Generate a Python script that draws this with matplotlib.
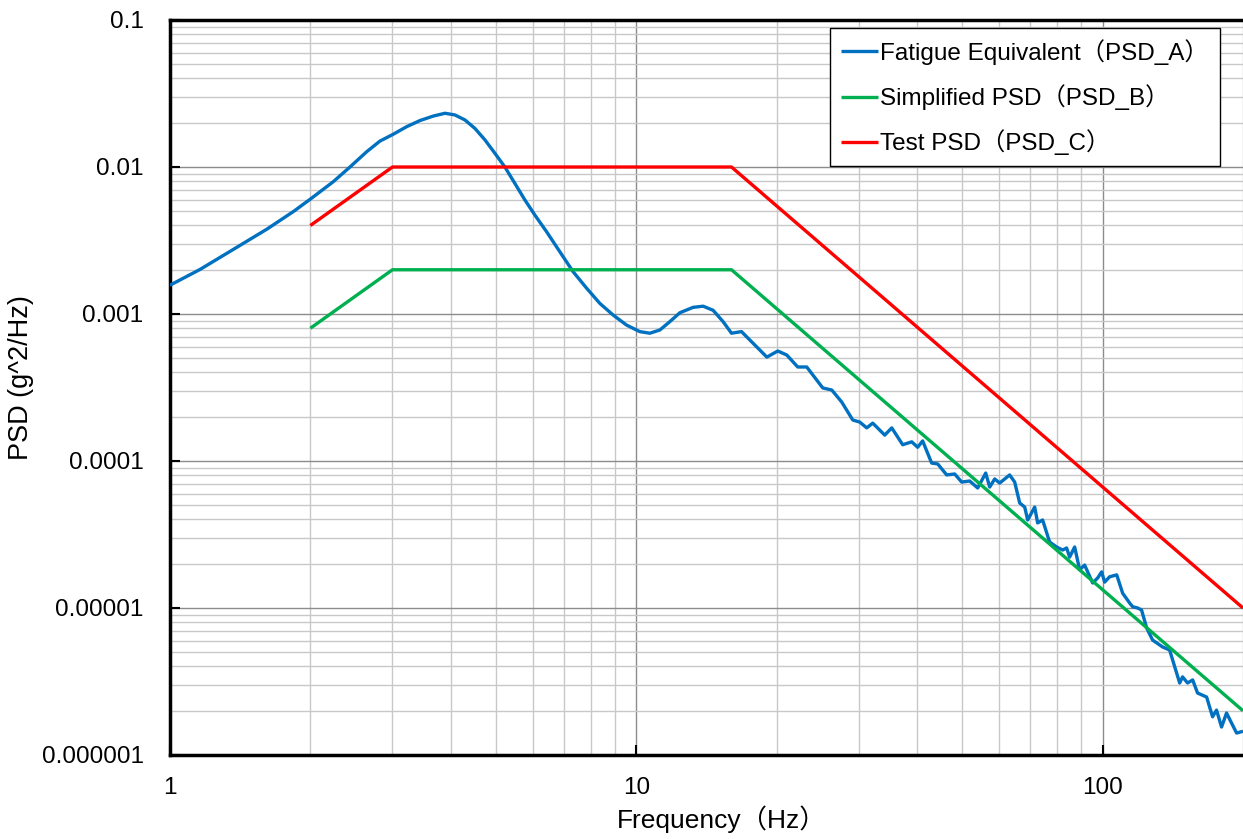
import numpy as np
import matplotlib
matplotlib.use("Agg")
import matplotlib.pyplot as plt
from matplotlib.ticker import FixedLocator, LogLocator, NullFormatter

# ---------------------------------------------------------------------------
# data
# ---------------------------------------------------------------------------
freq_a = [1.00, 1.160, 1.367, 1.612, 1.838, 2.000, 2.239, 2.432, 2.641, 2.819,
          3.011, 3.217, 3.436, 3.668, 3.887, 4.083, 4.290, 4.507, 4.735, 4.974,
          5.226, 5.489, 5.768, 6.060, 6.420, 6.855, 7.319, 7.821, 8.353, 8.918,
          9.528, 10.17, 10.69, 11.23, 11.80, 12.40, 13.24, 13.91, 14.61, 15.35,
          16.00, 16.81, 17.52, 18.40, 19.05, 20.11,
          21.02, 22.19, 23.20, 25.11, 26.25, 27.57, 29.12, 30.14, 31.20, 32.14,
          34.10, 35.30, 37.26, 38.96, 40.12, 41.12, 42.99, 44.29, 46.30, 48.16,
          49.86, 51.87, 53.96, 56.14, 57.26, 58.69, 60.15, 63.18, 64.78, 66.40,
          68.06, 69.07, 71.50, 72.55, 74.36, 76.97, 79.68, 82.08, 83.71, 84.96,
          87.10, 89.27, 91.50, 95.19, 97.57, 99.51, 101.0, 103.5, 107.2, 110.4,
          114.3, 116.0, 118.9, 121.2, 124.3, 128.0, 134.5, 139.2, 141.3, 146.3,
          148.4, 152.1, 156.0, 159.8, 167.1, 172.1, 175.5, 179.9, 184.4, 189.0,
          193.8, 200.0]
psd_a = [1.57e-3, 2.01e-3, 2.75e-3, 3.77e-3, 4.97e-3, 6.05e-3, 7.94e-3, 1.00e-2, 1.27e-2, 1.50e-2,
         1.67e-2, 1.88e-2, 2.07e-2, 2.22e-2, 2.32e-2, 2.26e-2, 2.09e-2, 1.83e-2, 1.53e-2, 1.24e-2,
         1.00e-2, 7.74e-3, 5.97e-3, 4.71e-3, 3.63e-3, 2.65e-3, 1.94e-3, 1.50e-3, 1.18e-3, 9.84e-4,
         8.41e-4, 7.59e-4, 7.40e-4, 7.78e-4, 8.87e-4, 1.02e-3, 1.11e-3, 1.13e-3, 1.06e-3, 8.87e-4,
         7.40e-4, 7.59e-4, 6.65e-4, 5.69e-4, 5.09e-4, 5.60e-4,
         5.26e-4, 4.36e-4, 4.36e-4, 3.14e-4, 3.04e-4, 2.52e-4, 1.90e-4, 1.84e-4, 1.68e-4, 1.81e-4,
         1.50e-4, 1.68e-4, 1.29e-4, 1.35e-4, 1.24e-4, 1.37e-4, 9.68e-5, 9.55e-5, 8.04e-5, 8.16e-5,
         7.19e-5, 7.31e-5, 6.55e-5, 8.28e-5, 6.65e-5, 7.55e-5, 7.08e-5, 8.04e-5, 7.19e-5, 5.18e-5,
         4.86e-5, 3.97e-5, 4.86e-5, 3.79e-5, 3.97e-5, 2.81e-5, 2.60e-5, 2.48e-5, 2.56e-5, 2.22e-5,
         2.60e-5, 1.82e-5, 1.96e-5, 1.48e-5, 1.60e-5, 1.76e-5, 1.50e-5, 1.63e-5, 1.68e-5, 1.26e-5,
         1.08e-5, 1.02e-5, 1.00e-5, 9.69e-6, 7.31e-6, 6.05e-6, 5.43e-6, 5.18e-6, 4.43e-6, 3.09e-6,
         3.40e-6, 3.09e-6, 3.24e-6, 2.64e-6, 2.48e-6, 1.82e-6, 2.02e-6, 1.55e-6, 1.93e-6, 1.65e-6,
         1.41e-6, 1.45e-6]

freq_b = [2, 3, 16, 200]
psd_b = [0.0008, 0.002, 0.002, 2e-6]

freq_c = [2, 3, 16, 200]
psd_c = [0.004, 0.01, 0.01, 1e-5]

labels = ["Fatigue Equivalent（PSD_A）", "Simplified PSD（PSD_B）", "Test PSD（PSD_C）"]
colors = ["#0070C0", "#00B050", "#FF0000"]

y_ticks = [1e-6, 1e-5, 1e-4, 1e-3, 1e-2, 1e-1]
y_tick_labels = ["0.000001", "0.00001", "0.0001", "0.001", "0.01", "0.1"]
x_ticks = [1, 10, 100]
x_tick_labels = ["1", "10", "100"]

FONT = ["Liberation Sans", "Noto Sans CJK JP", "DejaVu Sans"]
plt.rcParams["font.family"] = FONT

# ---------------------------------------------------------------------------
# figure
# ---------------------------------------------------------------------------
fig = plt.figure(figsize=(12.43, 8.39), dpi=100)
ax = fig.add_axes([170 / 1243, 1 - 755 / 839, 1073 / 1243, 735 / 839])

line_kw = dict(lw=2.4, solid_joinstyle="round", solid_capstyle="butt", zorder=3)
ax.plot(freq_a, psd_a, color=colors[0], label=labels[0], **line_kw)
ax.plot(freq_b, psd_b, color=colors[1], label=labels[1], **line_kw)
ax.plot(freq_c, psd_c, color=colors[2], label=labels[2], **line_kw)

ax.set_xscale("log")
ax.set_yscale("log")
ax.set_xlim(1, 200)
ax.set_ylim(1e-6, 0.1)

ax.xaxis.set_major_locator(FixedLocator(x_ticks))
ax.set_xticklabels(x_tick_labels)
ax.yaxis.set_major_locator(FixedLocator(y_ticks))
ax.set_yticklabels(y_tick_labels)
ax.xaxis.set_minor_locator(LogLocator(base=10, subs=np.arange(2, 10), numticks=20))
ax.yaxis.set_minor_locator(LogLocator(base=10, subs=np.arange(2, 10), numticks=20))
ax.xaxis.set_minor_formatter(NullFormatter())
ax.yaxis.set_minor_formatter(NullFormatter())

ax.grid(which="major", color="#8c8c8c", lw=1.0, zorder=0)
ax.grid(which="minor", color="#c8c8c8", lw=1.0, zorder=0)
ax.set_axisbelow(True)

ax.tick_params(which="major", direction="in", length=7, width=1.5,
               labelsize=17.5, pad=19, color="black")
ax.tick_params(axis="x", which="major", pad=16)
ax.tick_params(which="minor", length=0)

for side in ["left", "bottom", "top"]:
    ax.spines[side].set_linewidth(2.5)
    ax.spines[side].set_color("black")
ax.spines["right"].set_visible(False)

ax.set_xlabel("Frequency（Hz）", fontsize=19)
ax.xaxis.set_label_coords((722 - 170) / 1073, -0.068)
ax.set_ylabel("PSD (g^2/Hz)", fontsize=19.5)
ax.yaxis.set_label_coords(-0.127, (755 - 378) / 735)

# legend box: right edge ~1220 px, top ~28 px
leg = ax.legend(loc="upper right",
                bbox_to_anchor=((1220 - 170) / 1073, (755 - 28) / 735),
                borderaxespad=0, fontsize=17.5, frameon=True, fancybox=False,
                framealpha=1, edgecolor="black", handlelength=1.5,
                handletextpad=0.12, labelspacing=0.8, borderpad=0.45)
leg.get_frame().set_linewidth(1.0)

fig.savefig("out.png", dpi=100)
